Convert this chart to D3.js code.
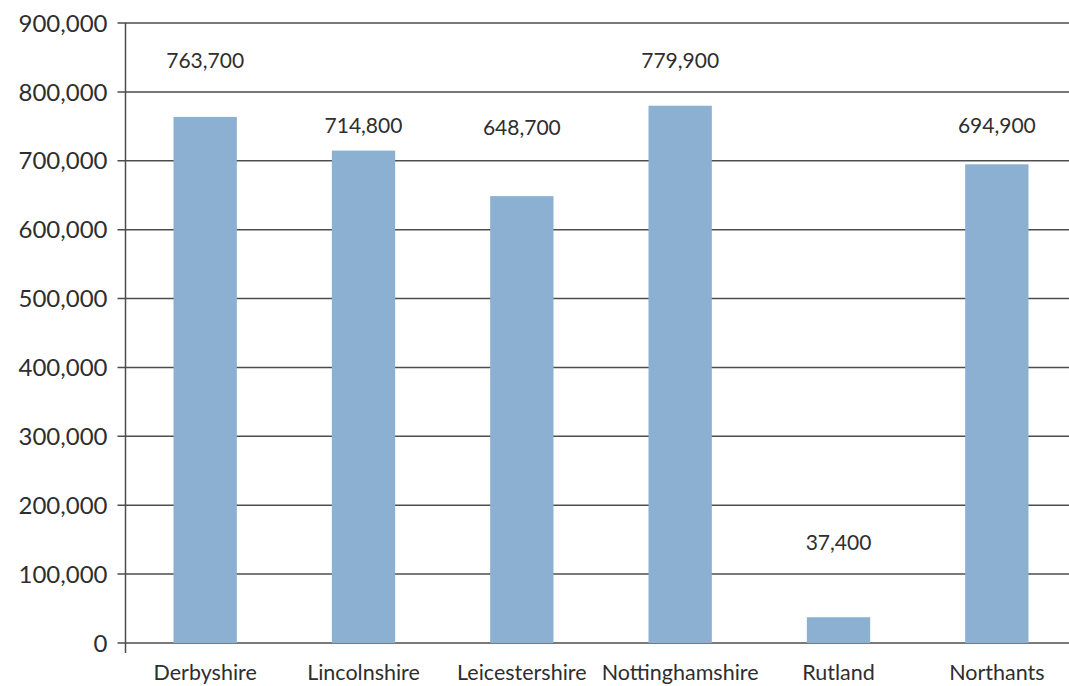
<!DOCTYPE html>
<html>
<head>
<meta charset="utf-8">
<script src="https://cdn.jsdelivr.net/npm/d3@7"></script>
<style>
  html, body { margin: 0; padding: 0; background: #fff; }
  svg { display: block; }
  text { font-family: Lato, "Open Sans", sans-serif; fill: #2e2e2e; }
</style>
</head>
<body>
<svg id="chart" width="1069" height="686"></svg>
<script>
// Population by county
const counties = ["Derbyshire", "Lincolnshire", "Leicestershire", "Nottinghamshire", "Rutland", "Northants"];
const population = [763700, 714800, 648700, 779900, 37400, 694900];
// Where each value label sits, in axis units
const labelAnchor = [834000, 739600, 736700, 834700, 135000, 740300];
const yTicks = [0, 100000, 200000, 300000, 400000, 500000, 600000, 700000, 800000, 900000];

const svg = d3.select("#chart");
const W = 1069;
const plotLeft = 125.5, plotTop = 23, plotBottom = 643;

const x = d3.scaleBand()
  .domain(counties)
  .range([126, 1076])
  .paddingInner(0.6)
  .paddingOuter(0.3);

const y = d3.scaleLinear()
  .domain([0, 900000])
  .range([plotBottom, plotTop]);

const fmt = d3.format(",");

// Horizontal gridlines with short outer ticks
svg.append("g").selectAll("line")
  .data(yTicks)
  .join("line")
  .attr("x1", plotLeft - 8)
  .attr("x2", W)
  .attr("y1", d => y(d))
  .attr("y2", d => y(d))
  .attr("stroke", "#4d4d4d")
  .attr("stroke-width", 1.5);

// Tick labels
svg.append("g").selectAll("text")
  .data(yTicks)
  .join("text")
  .attr("x", plotLeft - 18)
  .attr("y", d => y(d))
  .attr("dy", "0.36em")
  .attr("text-anchor", "end")
  .attr("font-size", 24)
  .text(d => fmt(d));

// Bars
svg.append("g").selectAll("rect")
  .data(counties)
  .join("rect")
  .attr("x", d => x(d))
  .attr("width", x.bandwidth())
  .attr("y", (d, i) => y(population[i]))
  .attr("height", (d, i) => y(0) - y(population[i]))
  .attr("fill", "#8cb0d1");

// Vertical axis line
svg.append("line")
  .attr("x1", plotLeft).attr("x2", plotLeft)
  .attr("y1", plotTop).attr("y2", plotBottom + 10)
  .attr("stroke", "#4d4d4d")
  .attr("stroke-width", 1.5);

// Value labels
svg.append("g").selectAll("text")
  .data(counties)
  .join("text")
  .attr("x", d => x(d) + x.bandwidth() / 2)
  .attr("y", (d, i) => y(labelAnchor[i]))
  .attr("text-anchor", "middle")
  .attr("font-size", 21)
  .text((d, i) => fmt(population[i]));

// Category labels
svg.append("g").selectAll("text")
  .data(counties)
  .join("text")
  .attr("x", d => x(d) + x.bandwidth() / 2)
  .attr("y", 680)
  .attr("text-anchor", "middle")
  .attr("font-size", 21.5)
  .text(d => d);
</script>
</body>
</html>
